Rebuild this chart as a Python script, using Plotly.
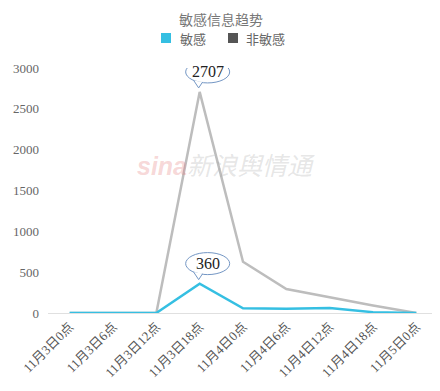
import plotly.graph_objects as go

categories = ["11月3日0点", "11月3日6点", "11月3日12点", "11月3日18点", "11月4日0点",
              "11月4日6点", "11月4日12点", "11月4日18点", "11月5日0点"]
sensitive = [0, 0, 0, 360, 58, 53, 60, 10, 0]
non_sensitive = [0, 0, 0, 2707, 628, 294, 190, 92, 0]
y_ticks = [0, 500, 1000, 1500, 2000, 2500, 3000]
series_names = ["敏感", "非敏感"]

BLUE = "#35bfe2"
GRAY_LINE = "#bdbdbd"
GRAY_LEG = "#555555"
BUBBLE = "#7396c4"
FONT = "Liberation Serif, Noto Sans CJK SC"

OFF = 8  # page body margin
W, H = 440 - OFF, 391 - OFF
ML, MT = 48 - OFF, 68 - OFF
MR = W - (438 - OFF)
MB = H - (313 - OFF)
PW, PH = W - ML - MR, H - MT - MB


def px(x):
    return (x - OFF - ML) / PW


def py(y):
    return (H - MB - (y - OFF)) / PH


fig = go.Figure()
fig.add_trace(go.Scatter(x=categories, y=non_sensitive, mode="lines", name=series_names[1],
                         line=dict(color=GRAY_LINE, width=2.5), showlegend=False, hoverinfo="skip"))
fig.add_trace(go.Scatter(x=categories, y=sensitive, mode="lines", name=series_names[0],
                         line=dict(color=BLUE, width=2.5), showlegend=False, hoverinfo="skip"))

shapes = []
annotations = []
for series in (non_sensitive, sensitive):
    i = max(range(len(series)), key=lambda k: series[k])
    cx, cy = categories[i], series[i]
    shapes.append(dict(type="circle", xref="x", yref="y", xsizemode="pixel", ysizemode="pixel",
                       xanchor=cx, yanchor=cy, x0=-14, x1=30, y0=9, y1=31,
                       line=dict(color=BUBBLE, width=1), fillcolor="white", layer="above"))
    shapes.append(dict(type="path", xref="x", yref="y", xsizemode="pixel", ysizemode="pixel",
                       xanchor=cx, yanchor=cy, path="M -6,11.5 L -1,4 L 3,10",
                       line=dict(color=BUBBLE, width=1), fillcolor="white", layer="above"))
    annotations.append(dict(x=cx, y=cy, xref="x", yref="y", text=str(series[i]), showarrow=False,
                            xshift=8, yshift=20, font=dict(family="Liberation Serif", size=16, color="#222")))

# legend (manual, to match tight square-text spacing)
LEG_Y = 38
legend_items = [(series_names[0], BLUE, 161, 178), (series_names[1], GRAY_LEG, 228, 244)]
for name, col, sx, tx in legend_items:
    shapes.append(dict(type="rect", xref="paper", yref="paper",
                       x0=px(sx), x1=px(sx + 10), y0=py(LEG_Y + 5), y1=py(LEG_Y - 5),
                       line=dict(width=0), fillcolor=col, layer="above"))
    annotations.append(dict(x=px(tx), y=py(LEG_Y), xref="paper", yref="paper", text=name,
                            showarrow=False, xanchor="left", yanchor="middle",
                            font=dict(family="Noto Sans CJK SC", size=13, color="#666")))

annotations.append(dict(x=px(226), y=py(166), xref="paper", yref="paper", showarrow=False,
                        text="<i><b><span style='color:rgba(230,120,120,0.30)'>sina</span></b>"
                             "<span style='color:rgba(170,170,170,0.30)'>新浪舆情通</span></i>",
                        font=dict(family="Liberation Sans, Noto Sans CJK SC", size=25)))

annotations.append(dict(x=px(221), y=py(OFF), xref="paper", yref="paper", showarrow=False,
                        text="敏感信息趋势", xanchor="center", yanchor="top", borderpad=0,
                        font=dict(family="Noto Sans CJK SC", size=14, color="#777")))

fig.update_layout(
    width=W, height=H,
    margin=dict(l=ML, r=MR, t=MT, b=MB),
    paper_bgcolor="white", plot_bgcolor="white",
    showlegend=False,
    shapes=shapes, annotations=annotations,
    xaxis=dict(type="category", categoryorder="array", categoryarray=categories,
               range=[-0.5, len(categories) - 0.5], showgrid=False, showline=True,
               linecolor="#e0e0e0", linewidth=1, ticks="", tickangle=-45, automargin=False,
               tickfont=dict(family=FONT, size=13, color="#555"), zeroline=False),
    yaxis=dict(range=[0, 3000], tickvals=y_ticks, showgrid=False, zeroline=False,
               showline=False, ticks="", ticklen=0, automargin=False, ticklabelstandoff=8,
               tickfont=dict(family="Liberation Serif", size=13, color="#666")),
)

fig.write_html("out.html")
